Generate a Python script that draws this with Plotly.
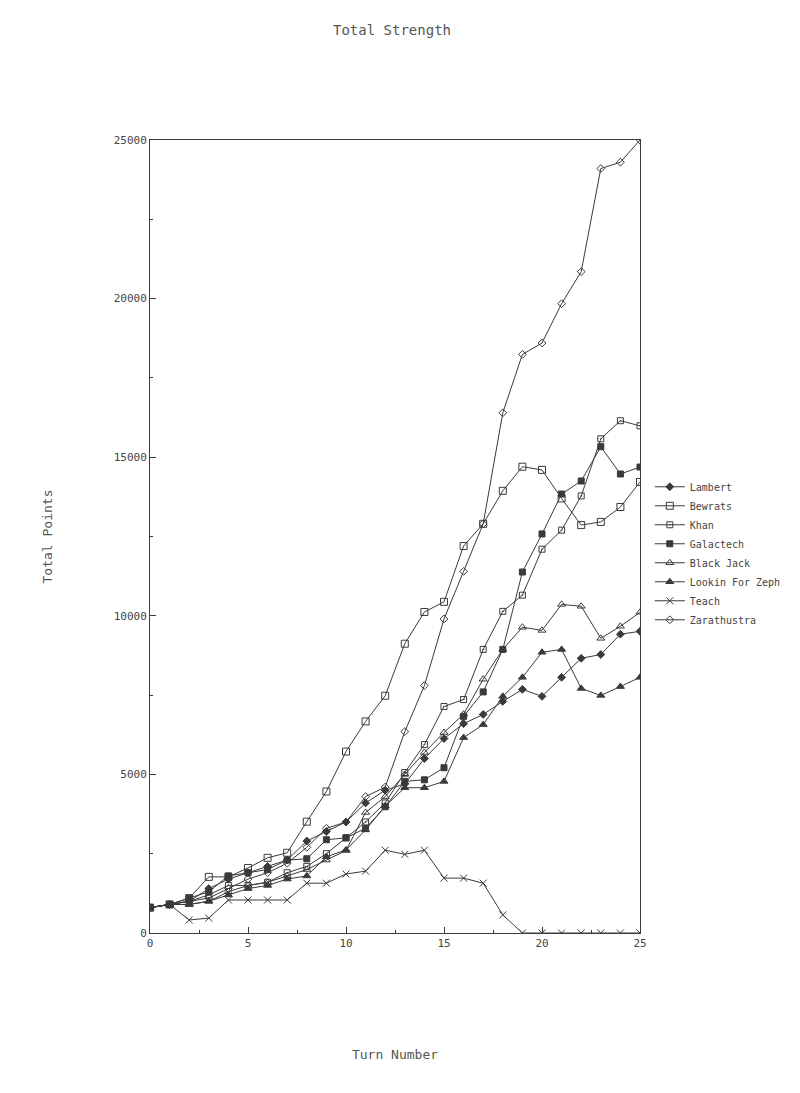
import plotly.graph_objects as go

turns = list(range(26))

lambert =     [800, 900, 1000, 1400, 1700, 1900, 2100, 2300, 2900, 3200, 3500, 4100, 4500, 4700, 5500, 6130, 6600, 6890, 7300, 7680, 7460, 8060, 8660, 8780, 9420, 9510]
bewrats =     [800, 900, 1100, 1770, 1770, 2050, 2370, 2530, 3510, 4460, 5720, 6670, 7480, 9120, 10120, 10440, 12200, 12900, 13940, 14700, 14600, 13700, 12860, 12960, 13430, 14220]
khan =        [800, 900, 1000, 1200, 1500, 1500, 1600, 1900, 2100, 2500, 3000, 3500, 4100, 5060, 5940, 7140, 7360, 8940, 10140, 10650, 12100, 12700, 13780, 15580, 16150, 15990]
galactech =   [800, 900, 1100, 1300, 1800, 1900, 2000, 2300, 2340, 2940, 3000, 3300, 3980, 4780, 4830, 5210, 6830, 7600, 8940, 11380, 12580, 13840, 14250, 15330, 14470, 14690]
black_jack =  [800, 900, 900, 1000, 1300, 1500, 1600, 1800, 2000, 2300, 2600, 3800, 4300, 5000, 5690, 6320, 6900, 8000, 8940, 9640, 9540, 10360, 10300, 9290, 9670, 10110]
lookin =      [800, 900, 900, 1000, 1200, 1400, 1500, 1700, 1800, 2400, 2620, 3250, 4000, 4580, 4580, 4780, 6160, 6570, 7460, 8060, 8850, 8940, 7710, 7490, 7770, 8060]
teach =       [800, 900, 410, 470, 1040, 1040, 1040, 1040, 1570, 1570, 1860, 1950, 2610, 2480, 2610, 1730, 1730, 1570, 570, 0, 0, 0, 0, 0, 0, 0]
zarathustra = [800, 900, 1000, 1100, 1400, 1700, 1900, 2200, 2700, 3300, 3500, 4300, 4600, 6350, 7800, 9900, 11400, 12900, 16400, 18240, 18600, 19840, 20850, 24100, 24300, 25000]

x_ticks = [0, 5, 10, 15, 20, 25]
y_ticks = [0, 5000, 10000, 15000, 20000, 25000]

series = [
    ("Lambert", lambert, "diamond", 6),
    ("Bewrats", bewrats, "square-open", 7),
    ("Khan", khan, "square-open-dot", 6),
    ("Galactech", galactech, "square", 6),
    ("Black Jack", black_jack, "triangle-up-open", 7),
    ("Lookin For Zeph", lookin, "triangle-up", 7),
    ("Teach", teach, "x-thin-open", 7),
    ("Zarathustra", zarathustra, "diamond-open", 6),
]

ink = "#3a3a3a"
font = "DejaVu Sans Mono"

fig = go.Figure()
for name, vals, sym, sz in series:
    fig.add_trace(go.Scatter(
        x=turns, y=vals, name=name, mode="lines+markers",
        line=dict(color=ink, width=1),
        marker=dict(symbol=sym, size=sz, color=ink, line=dict(color=ink, width=1)),
    ))

fig.update_layout(
    width=800, height=1093,
    paper_bgcolor="white", plot_bgcolor="white",
    margin=dict(l=142, r=168, t=132, b=168, autoexpand=False),
    title=dict(text="Total Strength", x=0.48, xanchor="center", yref="container",
               y=0.980, yanchor="middle",
               font=dict(family=font, size=14, color="#555")),
    font=dict(family=font, size=11, color="#444"),
    showlegend=True,
    legend=dict(x=1.02, y=0.581, xanchor="left", yanchor="top",
                bgcolor="rgba(0,0,0,0)", font=dict(family=font, size=10, color="#444"),
                tracegroupgap=0),
)
fig.update_xaxes(
    range=[0, 25], tickvals=x_ticks, ticktext=[str(v) for v in x_ticks],
    ticks="inside", ticklen=6, automargin=False,
    tickcolor=ink, showline=True, linecolor=ink, linewidth=1, mirror=True,
    showgrid=False, zeroline=False,
    minor=dict(dtick=2.5, ticks="inside", ticklen=3, tickcolor=ink),
    title=dict(text="Turn Number", standoff=100, font=dict(family=font, size=13, color="#555")),
)
fig.update_yaxes(
    range=[0, 25000], tickvals=y_ticks, ticktext=[str(v) for v in y_ticks],
    ticks="inside", ticklen=6, automargin=False,
    tickcolor=ink, showline=True, linecolor=ink, linewidth=1, mirror=True,
    showgrid=False, zeroline=False,
    minor=dict(dtick=2500, ticks="inside", ticklen=3, tickcolor=ink),
    title=dict(text="Total Points", standoff=58, font=dict(family=font, size=13, color="#555")),
)

fig.write_html("out.html")
